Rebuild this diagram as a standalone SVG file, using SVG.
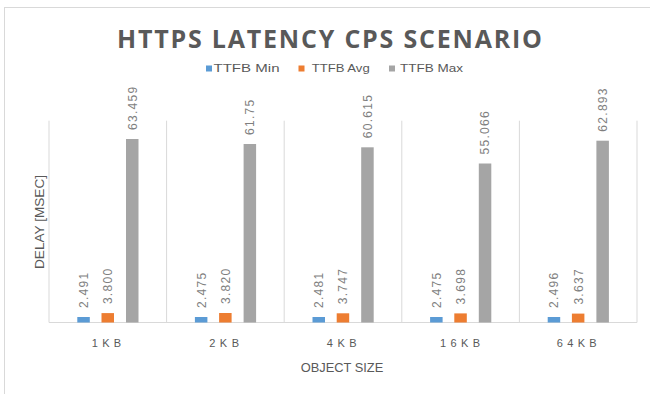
<svg xmlns="http://www.w3.org/2000/svg" width="650" height="394" viewBox="0 0 650 394">
<style>
.grid{stroke:#d9d9d9;stroke-width:1;fill:none}
.t{font-family:"Liberation Sans",Arial,sans-serif;fill:#595959}
.v{font-family:"Liberation Sans",Arial,sans-serif;font-size:12px;fill:#7f7f7f;letter-spacing:1.3px}
.cat{font-size:11px}
.b{fill:#5b9bd5}.o{fill:#ed7d31}.g{fill:#a5a5a5}
</style>
<rect x="0" y="0" width="650" height="394" fill="#ffffff"/>
<rect x="4.5" y="7.5" width="660" height="400" fill="none" stroke="#d9d9d9"/>
<g id="title">
<text x="117" y="47.5" font-family="'Open Sans','Liberation Sans',sans-serif" font-size="25" font-weight="bold" fill="#595959" textLength="425" lengthAdjust="spacing">HTTPS LATENCY CPS SCENARIO</text>
</g>
<g id="legend">
<rect class="b" x="206" y="65.5" width="6" height="6"/>
<text class="t" x="213.5" y="71.7" font-size="11" textLength="66" lengthAdjust="spacingAndGlyphs">TTFB Min</text>
<rect class="o" x="298.5" y="65.5" width="6" height="6"/>
<text class="t" x="311.7" y="71.7" font-size="11" textLength="58" lengthAdjust="spacingAndGlyphs">TTFB Avg</text>
<rect class="g" x="389" y="65.5" width="6" height="6"/>
<text class="t" x="400" y="71.7" font-size="11" textLength="63" lengthAdjust="spacingAndGlyphs">TTFB Max</text>
</g>
<g id="axes">
<path class="grid" d="M49 120.7V322.5M166.6 120.7V322.5M284.2 120.7V322.5M401.8 120.7V322.5M519.4 120.7V322.5M637 120.7V322.5M49 322.5H637"/>
<text class="t" font-size="12.5" transform="translate(43.5,222) rotate(-90)" text-anchor="middle" textLength="94" lengthAdjust="spacingAndGlyphs">DELAY [MSEC]</text>
<text class="t cat" x="91.7" y="346.7" textLength="29.5" lengthAdjust="spacing">1KB</text>
<text class="t cat" x="209.3" y="346.7" textLength="29.7" lengthAdjust="spacing">2KB</text>
<text class="t cat" x="326.7" y="346.7" textLength="30" lengthAdjust="spacing">4KB</text>
<text class="t cat" x="440" y="346.7" textLength="40" lengthAdjust="spacing">16KB</text>
<text class="t cat" x="556.7" y="346.7" textLength="40" lengthAdjust="spacing">64KB</text>
<text class="t" x="300.7" y="371.5" font-size="12.5" textLength="82.6" lengthAdjust="spacingAndGlyphs">OBJECT SIZE</text>
</g>
<g id="series-min">
<rect class="b" x="77.3" y="317" width="12.5" height="5.5"/>
<rect class="b" x="194.9" y="317" width="12.5" height="5.5"/>
<rect class="b" x="312.5" y="317" width="12.5" height="5.5"/>
<rect class="b" x="430.1" y="317" width="12.5" height="5.5"/>
<rect class="b" x="547.7" y="317" width="12.5" height="5.5"/>
<text class="v" transform="translate(87.9,308) rotate(-90)">2.491</text>
<text class="v" transform="translate(205.5,308) rotate(-90)">2.475</text>
<text class="v" transform="translate(323.1,308) rotate(-90)">2.481</text>
<text class="v" transform="translate(440.7,308) rotate(-90)">2.475</text>
<text class="v" transform="translate(558.3,308) rotate(-90)">2.496</text>
</g>
<g id="series-avg">
<rect class="o" x="101.5" y="313.1" width="12.5" height="9.4"/>
<rect class="o" x="219.1" y="313" width="12.5" height="9.5"/>
<rect class="o" x="336.7" y="313.3" width="12.5" height="9.2"/>
<rect class="o" x="454.3" y="313.4" width="12.5" height="9.1"/>
<rect class="o" x="571.9" y="313.6" width="12.5" height="8.9"/>
<text class="v" transform="translate(112.1,304.1) rotate(-90)">3.800</text>
<text class="v" transform="translate(229.7,304) rotate(-90)">3.820</text>
<text class="v" transform="translate(347.3,304.3) rotate(-90)">3.747</text>
<text class="v" transform="translate(464.9,304.4) rotate(-90)">3.698</text>
<text class="v" transform="translate(582.5,304.6) rotate(-90)">3.637</text>
</g>
<g id="series-max">
<rect class="g" x="126" y="139" width="12.5" height="183.5"/>
<rect class="g" x="243.6" y="144" width="12.5" height="178.5"/>
<rect class="g" x="361.2" y="147.3" width="12.5" height="175.2"/>
<rect class="g" x="478.8" y="163.5" width="12.5" height="159"/>
<rect class="g" x="596.4" y="140.7" width="12.5" height="181.8"/>
<text class="v" transform="translate(136.6,130) rotate(-90)">63.459</text>
<text class="v" transform="translate(254.2,135) rotate(-90)">61.75</text>
<text class="v" transform="translate(371.8,138.3) rotate(-90)">60.615</text>
<text class="v" transform="translate(489.4,154.5) rotate(-90)">55.066</text>
<text class="v" transform="translate(607,131.7) rotate(-90)">62.893</text>
</g>
</svg>
